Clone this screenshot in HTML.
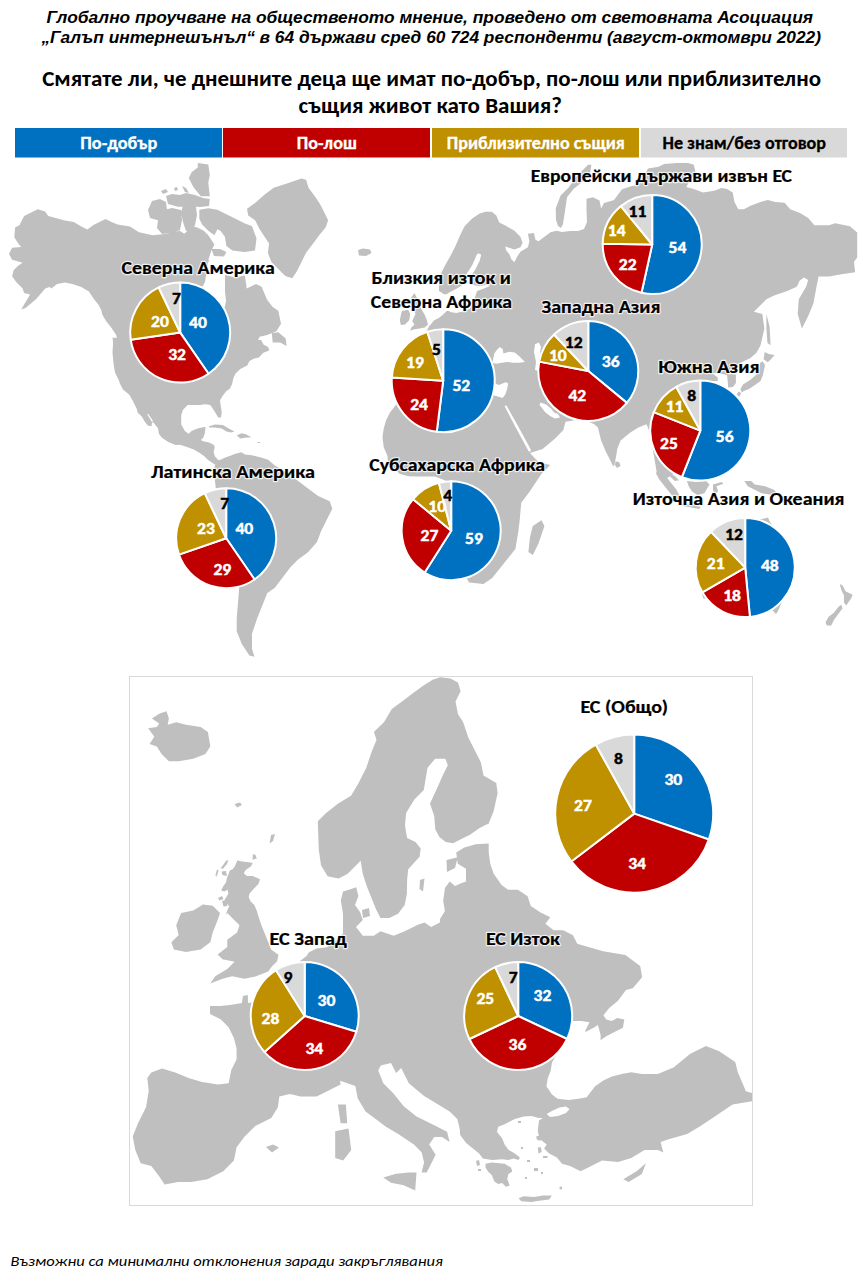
<!DOCTYPE html>
<html lang="bg"><head><meta charset="utf-8"><title>Галъп интернешънъл</title><style>
html,body{margin:0;padding:0;background:#fff;overflow:hidden;width:863px;height:1281px;}
svg{display:block;}
.tt{font-family:"Liberation Sans",Arial,sans-serif;font-weight:bold;font-style:italic;font-size:17.33px;fill:#000;}
.q{font-family:Carlito,"Liberation Sans",sans-serif;font-weight:bold;font-size:22.67px;fill:#000;}
.lg{font-family:Carlito,"Liberation Sans",sans-serif;font-weight:bold;font-size:18px;stroke-width:.3px;}
.pl{font-family:Carlito,"Liberation Sans",sans-serif;font-weight:bold;text-anchor:middle;stroke-width:.45px;}
.rh{font-family:Carlito,"Liberation Sans",sans-serif;font-weight:bold;fill:#fff;stroke:#fff;stroke-width:2.5px;stroke-linejoin:round;opacity:.75;}
.rl{font-family:Carlito,"Liberation Sans",sans-serif;font-weight:bold;fill:#000;stroke:#000;stroke-width:.2px;}
.ft{font-family:Carlito,"Liberation Sans",sans-serif;font-style:italic;font-size:14.67px;fill:#000;}
</style></head>
<body><svg width="863" height="1281" viewBox="0 0 863 1281">
<path d="M9,253.8L12.1,247.7L21.1,247L18.1,243.2L14.3,237.2L15.1,227.4L19.6,225.1L24.1,216.1L37.7,209.3L45.2,211.6L48.2,216.1L64.8,220.6L73.8,222.1L81.3,226.6L87.4,229.6L93.4,225.1L105.5,219.1L111.5,222.1L117.5,224.4L130,226.6L139,232.3L152.6,235.3L167.7,233.8L179.7,230.8L184.2,233.8L193.3,226.3L197.8,227.8L203.8,230.8L208.3,235.3L214.4,244.4L211.4,250.4L208.3,260L218,268L225,275L235.6,277.5L244.9,275.6L246.7,288.6L256,284L261.6,286.7L267.1,299.7L272.7,307.1L278.3,310.8L281,323.8L276.4,331.2L267.1,334.9L259.7,336.8L258,340L261.1,340L263.4,344.6L268.1,347L269.2,350.4L263.4,352.7L258.8,357.4L254.2,358.5L249.5,360.9L247.2,365.5L240.3,369L235.6,373.6L233.3,378.2L232.1,384L229.8,388.7L226.4,391L222.9,395.6L220,400.3L220.6,404.9L221.7,411.8L221.1,417.6L218.2,417.6L214.8,411.8L211.9,407.2L210.1,404.9L205.5,404.3L199.7,404.9L193.9,404.9L187.7,405L183,409.7L181.2,415.2L181.2,424.5L184.9,431L188.6,433.8L191.6,430.9L197.4,428.5L205.5,426.8L204.9,433.2L203.2,437.8L200.9,440.1L203.2,441.3L209,442.4L213.6,444.8L214.8,447.1L213.6,451.7L214.8,456.3L218.2,460L224,460.5L229.8,458L232,456L231,459L226,462.5L220,463.5L214.8,464.5L207.8,459.8L204.3,456.3L199.7,452.9L193.9,449.4L187,447.1L180,444.8L175.6,444.9L168.2,442.1L161.7,437.5L158.9,433.8L158,428.2L153.4,422.6L152,422.6L151.5,426.3L147.8,425.4L144.1,420.8L142.2,417.1L137.6,412.4L136.7,408.7L133,401.3L129.3,394.8L122.8,389.3L120,383.7L118.7,379.9L115,372.4L113.7,364.9L112.5,352.4L113.1,342.4L112.5,337.4L116.8,338.1L116.2,335L111.2,327.5L106.2,321.2L102.5,315L101.2,310L98.7,305L93.7,298.7L88.9,291.4L81.3,286.9L72.3,283.9L64.8,282.4L57.2,283.9L51.2,288.4L49.7,286.9L45.2,288.4L36.2,299L25.6,308L21.1,309.5L30.1,294.4L24.1,292.9L22.6,288.4L16.6,282.4L12.1,276.3L13.6,270.3L18.1,265.8L22.6,262.8L12.1,259.8ZM209,426.2L214.8,424.5L222.9,425.1L228.7,428.5L234.5,431.4L231,432.6L226.4,431.4L221.7,428.5L214.8,427.4L209,427.6ZM236.8,435.5L241.4,433.2L246,434.3L251.3,437.2L244.9,437.8L240.3,438.4ZM257.6,441.9L260,441.9L260,443L257.6,443ZM247,208.7L255.1,202.9L264.4,194.8L273.7,187.8L287.6,183.2L301.5,178.5L306.1,179.7L308.5,187.8L315.4,197.1L320,204L324.7,213.3L328.1,220.3L325.8,227.2L320,234.2L313.1,243.4L306.1,252.7L301.5,262L296.9,271.2L292.2,278.2L285.3,275.9L278.3,268.9L271.4,262L267.9,252.7L269.1,243.4L264.4,236.5L259.8,229.5L255.1,220.3L248.2,215.6ZM197.8,163L208.3,164.5L209.8,175.1L208.3,182.6L209.8,196.2L200.8,196.2L193.3,187.1L188.8,178.1L191.8,172.1L197.8,167.5ZM166,196L172,194L180,195L186,193L195,195L203,198L209.8,199L209,206L200,207L190,206L178,206.7L168,204ZM161,191L166,189L168,192L163,194ZM174,188L177,187L178,190L175,191ZM182,186L186,188L189,193L185,192ZM148,210L152,201L160,199L166,202L167,210L162,216L157,220L150,218ZM156,212L164,210L172,208L181,210L182,220L180,230L172,233L162,234L157,228L158,220ZM183,206L190,205L196,207L197,215L195,225L192,232L186,231L183,222L181,212ZM199.3,209.7L208.3,208.2L217.4,209.7L226.4,214.2L235.5,218.8L244.5,223.3L252,226.3L256.5,238.3L255,250.4L244.5,251.9L232.4,250.4L226.4,245.9L224.9,236.8L220.4,230.8L217.4,229.3L214.4,235.3L208.3,230.8L202.3,224.8L199.3,218.8ZM211.4,249L220,248.9L226.4,252L224,256.4L214,256ZM271.8,333.1L278.3,332.2L285.7,338.6L286.6,346.1L280.1,342.4L272.7,342.4ZM231,455.5L234.5,454L241.4,452.3L244.9,454.6L251.8,455.2L261.1,457.5L268.1,459.8L274.9,465.5L287.6,473.1L297.8,480.8L308,488.4L318.2,496.1L329.7,501.2L332.3,508.8L325.9,521.6L320.8,531.8L317,542L308,552.2L297.8,559.8L290.2,567.5L282.6,577.6L274.9,587.8L267.3,593L262.2,605.7L257.1,618.4L252,633.7L252,649L254.5,656.7L249.4,655.4L241.8,643.9L236.7,631.2L236.7,618.4L238,603.1L239.2,587.8L238,570L230,550L218,525L214,505L216,490L213.7,470L216,462L224,458ZM358,250L363,248.5L370,249.5L371.5,253L366,256L359,255.5ZM401.9,310.9L408.2,309.8L410.2,314L409.2,320.2L405,324.4L400.9,324.9L399.8,320.2L400.9,315ZM414.5,293L418.2,300.4L421.7,309.8L424.8,315L426.9,320.2L428,324.4L424.8,327.5L419.6,328.6L413.4,329.6L410.2,330.7L411.3,327.5L414.4,324.4L412.3,321.3L413.4,318.2L415.5,314L414.4,310.9L410.8,305L410.8,298ZM387.5,456.1L383.7,447.3L382.5,437.3L383.7,428.6L386.2,419.9L390,412.4L395,406.1L400,398L398,380L400,360L410,350L420,340L426,332L429,326.5L434.2,320.2L438.4,318.2L442.6,315L446.7,310.9L451,311L452,302L455,301.5L439,291L439,283.4L440.5,274.4L445.1,265.3L451.1,254.8L455.6,245.7L460.1,235.2L464.6,226.2L472.2,218.6L479.7,213.4L485.7,211.8L491.8,211.8L496.3,215.6L499.3,222.4L505.3,225.4L514.4,230.7L520.4,236.7L522.6,242.7L520.4,247.2L514.4,249.5L509.8,248L505.3,246.5L506,250L509.8,255L511.3,259.3L514.4,262.3L517.4,256.3L520.4,251.8L527.9,247.2L529.4,241.2L527.9,233.7L533.9,232.9L535.5,239.7L538.5,241.2L544.5,236.7L550.5,232.2L556.5,230.7L562,232L570,231L578,231L584,229L587,222L586.5,210L586.5,198.8L593,197.2L599.5,200.4L601.1,208.5L604,203L611,201L614,200L622,189.3L632,186L638.8,184.8L648,168.5L658.5,166.7L664.1,163.9L677.1,163L688.2,163L693.8,164.8L695.6,172.2L689,182L686.3,187.1L693.8,188.9L703,192.6L714.2,190.8L721.6,188L727.1,188.9L732.7,192.6L734.5,201.9L738.3,209.3L743.8,209.3L751.2,205.6L760.5,201.9L767.9,200.1L775.3,201.9L784.6,202.8L790.2,209.3L800,213L808.2,218L814.4,225.3L829,225.3L835.3,223.2L849.9,226.3L857.2,232.6L857.2,257.6L854,261.8L855.1,272.2L841.5,274.3L829,276.4L818.6,276.4L816.5,286.8L813.4,303.5L808.2,316L801.9,328.5L797.7,313.9L798.8,299.3L806.1,286.8L808.2,280L804,277.4L799.8,280.6L796.7,286.8L787.3,291L774.8,295.2L766.4,299.3L753.9,311.8L762.3,313.9L764.4,328.5L762.6,336.3L760.5,345.6L756.3,352.9L750.1,358.2L743.8,361.3L735,366L730,370L727.6,374L735.9,374.5L735.9,383L733,387L728.2,387.5L727.6,380L727,375L720,373.5L712,373L717.8,377.5L717.8,381L708,381.3L700,381.3L690,381L688,395L700,420L712,425L705,440L698,450L690,460L680,470L667,478L662.3,477.9L656.7,472.3L655,462L652,445L649.8,432L646.5,424.3L638.4,427.6L630.3,432.4L620.6,440.6L617.3,448.7L616,457L614.1,466.5L612.5,465L610.9,461.6L606,451.9L601.1,440.6L597.9,427.6L594,424L588.5,421.8L578,419.7L565.5,421.8L563.4,430.1L555.1,438.5L542.6,448.9L530,453L538.6,462.2L550.2,465.1L541.5,473.8L529.9,491.2L521.2,502.8L519.7,520.2L518.3,531.7L515.4,549.1L503.8,563.6L492.2,578.1L483.5,583.9L469,582.4L462,570L458,550L455,520L455,500L451,484L444,480L435,476.5L416,476.5L408.2,476.2L399.5,473.8L387.9,462.2ZM555.7,208.5L556,220L558,226L561,228L563,224L565.4,208.5L567,197.2L573.5,189.1L581.6,182.6L589.8,174.5L591.4,164.7L588.1,164.7L576.8,176.1L568.7,187.4L560.6,195.6ZM766.4,313.9L769.6,326.4L770.6,345.2L767.5,343.1L766.4,328.5ZM764.7,351.9L768.8,354L774.6,355L770.9,359.2L767.8,362.3L763.6,359.2ZM762.6,361.3L765,365L764,370L762.6,376L760.5,381L755,385L749,389L743.8,391L741.7,392.5L740.5,389L743,384.5L750,380L756,375L759.5,369L760,363ZM738.6,391.5L741,393L739.6,396.7L736.5,394.7ZM615.5,461.5L619,462L620.6,466L617,468.1L615,465ZM532.8,526L541.5,520.2L544.4,526L538.6,543.3L532.8,554.9L528.4,552L529.9,537.5ZM655.6,472.4L662.6,471.5L669.5,481.1L676.5,489.8L681.7,500.2L680,503.7L673,496.7L666.1,488L659.1,479.3ZM666.1,471.5L674.8,475.9L679.1,480.2L674.8,481.1L669.5,475.9ZM681.7,503.7L692.1,504.5L700.8,507.1L699.1,508.9L688.7,507.1L682,506ZM686.9,481.1L695.6,481.9L706.1,481.1L709.5,484.6L704.3,493.2L697.4,495L692.1,491.5L688.7,486.3ZM713,484.6L721.7,481.9L723.4,483.7L716.5,486.3L718.2,491.5L714.7,495L713,489.8ZM744.3,481.1L751.2,481.1L754.7,484.6L765.2,486.3L773.8,489.8L777.3,493.2L772.1,495L761.7,493.2L754.7,489.8L747.8,486.3ZM722,432L726,431L727,440L724,444L721,440ZM714,412L717,411L717,418L714,418ZM839.8,584.1L842.6,585.5L845.5,591.2L852.6,594.8L851.2,598.3L846.2,605.5L844,602.6L844,595.5L841.9,591.2L840.5,587ZM841.2,604.8L842.6,608.3L838.3,614L834.1,619.7L831.2,625.4L826.9,625.4L825.5,622.6L828.4,616.9L834.1,612.6L838.3,606.9ZM705,545L720,530L740,522L762,519L768,517.5L770,522L780,535L788,555L790,575L785,595L778,611L776,614L770,608L755,603L740,600L720,605L703,598L698,575Z" fill="#BFBFBF"/><path d="M147,414L148.5,414.2L153,421L152,422ZM208,262L215,258L224,262L225,276L225,292L226,301L225,306L215,330L200,330L195,300L205,282ZM444,296L450,292L456,289L461,286L463.1,283.4L466.2,274.4L472.2,265.3L476.7,254.8L478.2,253.3L481.2,254.8L479.7,260.8L475.2,269.8L470.7,275.9L468.5,283L470.9,284.8L479.2,285.9L487.6,284.8L490,286L484,288.5L477.1,291.1L474,300L469.8,308.8L464.6,310.9L456.3,313L450,311.9L445.9,306.7ZM436,296L447,294L451,296L454,300L452,302L446,300L438,300ZM405,392L412,388L420,385L430,383L440,378L450,372L458,372L466,378L472,382L480,380L486,378L490,380L494.3,383.2L498.9,385L505.4,382.3L508.2,383.2L507.2,388.8L505.4,394.3L502.6,398L497,396.2L493.3,395.2L488,396L480,397L470,394L460,391L450,392L440,392L430,393L420,394L410,395ZM492.4,362.8L494.3,353.5L497,349.8L499.8,347L502.6,348.9L503.5,353.5L509.1,351.7L514.7,352.6L519.3,356.3L524.9,361.9L519.3,362.8L512.8,362.8L507.2,361.9L501.7,362.8L496.1,363.7ZM535,344.3L538.8,342.4L541,347L540,352L542,358L542.5,366L540,371L535,370L536,362L534,352ZM504.5,406L506.5,405.5L518,426L531,450L530,452L528.5,451L516,428ZM540.5,402.5L546,404.5L551,408.5L554,412.5L558,414L560,417.5L555,418.5L550,416L545,412L542,408L539.5,405Z" fill="#fff"/>
<rect x="129.5" y="676.5" width="623" height="529" fill="#fff" stroke="#D9D9D9" stroke-width="1"/>
<clipPath id="eb"><rect x="130" y="677" width="622" height="528"/></clipPath><g clip-path="url(#eb)"><path d="M327.6,876.2L321,865.2L318.8,849.8L317.8,821.3L325.5,813.6L338.2,803.5L351,795.8L358.6,783.1L366.3,767.8L371.4,752.5L376.5,739.7L373.9,732.1L384.1,721.9L391.8,709.1L402,701.5L412.2,693.8L422.4,686.2L432.6,679.8L440.2,677.3L450.4,678.5L458,682.4L460.6,691.3L455.5,701.5L458,714.2L463.1,721.9L468.2,737.2L475.9,752.5L481,762.7L483.5,775.4L496.3,783.1L497.6,793.3L493.7,811.1L488.6,823.8L485.4,825L478.9,828.5L470,834.8L461.3,839L453,843.2L445.7,842.1L439.4,836.9L435.3,829.6L434.2,816.1L430,803.6L436.3,790L442.7,775.4L447.8,765.2L445.3,758.8L435.1,758.8L427.5,767.8L423.8,790L414.4,799.4L406.1,812.9L405,825.5L407.1,838L415.5,842.1L420.7,848.4L419.6,856.7L408.2,869.3L407.1,880L406.9,893.8L404.7,904.9L398.1,913.7L389.3,918.1L380.5,918.1L376,909.3L371.6,898.3L367.2,887.2L362.8,874L360.6,860.8L356.2,865.2L347.4,874L338.6,878.4ZM343,891.6L349.6,889.4L356.2,887.2L358.4,896L355,905L360,912L362.8,920L356,927L362.8,935.7L373.8,935.7L380.5,931.3L387.1,933.5L393.7,935.7L404.7,931.3L417.9,924.7L424.5,922.5L431.1,926.9L439.9,922.5L440,919L444.9,910.9L443.2,901.1L444.9,888.1L449.7,881.6L455,886L461.1,883.3L466,881.6L466,868.7L457.8,863.8L456.2,852.4L464.3,847.6L475.7,844.3L488.7,843.5L488.7,852.4L490.3,863.8L493.5,873.5L501.6,884.9L508.1,889.8L517.9,889.8L527.6,896.2L530.8,906L540.6,912.5L550.3,917.3L545.4,923.8L553.6,930.3L563.3,930.3L573,935.2L577.2,943.8L603.1,951.2L625.4,955L640.2,966.1L642.1,977.2L632.8,988.3L626,990L618,1000.7L609,1008.3L603.4,1015.3L606.2,1019.5L611.8,1020.9L617.3,1018.1L624.3,1019.5L622.9,1027.8L614.5,1032L606.2,1036.2L600.6,1040.3L600.6,1034.8L597.9,1025L593.7,1027.8L585.4,1032L585.4,1030.6L589.5,1022.2L581.2,1020.9L572.8,1020.9L567.3,1034.8L565.9,1037.5L552,1062.6L550.6,1070.9L547.8,1077.9L546.4,1086.2L552,1094.5L557.5,1098.7L568.7,1100.1L578.4,1098.7L586.7,1097.3L595.1,1086.2L603.4,1080.6L611.8,1076.5L622.9,1073.7L631.2,1072.3L641.9,1074L657.9,1074L673.9,1067.3L689.9,1054L705.9,1046L719.2,1051.3L735.2,1062L737.9,1072.6L745.9,1091.3L760,1095L760,1100L732.6,1104.6L716.6,1115.3L700.6,1125.9L687.2,1133.9L668.6,1139.3L660.6,1141.9L663.3,1152.6L658,1150L644.6,1149.9L631.3,1157.9L618,1161.9L602,1160.6L591.3,1165.9L580.6,1171.2L570,1165.9L562,1163.7L556.9,1157.4L549.2,1153.5L544.1,1148.4L546.7,1144.6L541,1140L539,1137L537.8,1130.6L539,1120.4L542.9,1118L537.8,1117.8L531.4,1115.9L523.7,1116.6L514.8,1119.1L508.4,1122.3L504,1124.5L498.2,1126.8L497,1131.9L502.1,1138.2L504.6,1144.6L508.4,1149.7L514.8,1153.5L519.9,1157.4L518.6,1159.9L513.5,1158.6L508.4,1159.9L502.1,1159.3L491.9,1159.9L482.9,1158.6L479.1,1153.5L466.4,1143.3L462.5,1138.2L460,1134.4L459.8,1129.2L457.3,1119L449.6,1111.4L436.9,1103.7L424.1,1096.1L408.8,1083.3L401.2,1068L396.1,1073.1L391,1062.9L380.8,1065.5L378.2,1070.6L383.3,1083.3L393.5,1093.5L403.7,1106.3L416.5,1116.5L431.8,1124.1L447.1,1131.8L449.6,1142L442,1136.9L434.3,1136.9L429.2,1144.5L435.6,1154.7L431.8,1162.4L426.7,1172.6L421.6,1172.6L424.1,1162.4L421.6,1152.2L413.9,1144.5L398.6,1134.3L385.9,1126.7L375.7,1119L365.5,1111.4L357.8,1098.6L355.3,1085.9L340,1080.8L340.6,1084.6L327.2,1091.3L316.6,1096.6L300.6,1096.6L289.9,1093.9L279.3,1096.6L277.9,1107.3L271.3,1117.9L255.3,1125.9L244.6,1136.6L236.6,1147.2L233.9,1160.6L223.3,1171.2L207.3,1179.2L191.3,1181.9L178,1181.9L164.6,1184.6L159.3,1176.6L151.3,1165.9L140.7,1163.2L135.3,1149.9L132.7,1136.6L138,1123.3L146,1107.3L148.7,1091.3L147.3,1078L151.3,1072.6L162,1068.6L175.3,1072.6L188.6,1078L202,1082L218,1084.6L228.6,1083.3L231.3,1070L236.6,1059.3L236.6,1048.6L233.9,1038L228.6,1027.3L220.6,1019.3L210,1014L210,1006L220.6,1006L230,1005L241.9,1003L243,996L247.8,995L248,1003L256,1002L265,995L275,988L285,975L295,965L306.5,956.1L309,952.3L316.7,948.4L326.9,947.2L336.4,940.1L343,933.5L343,913.7L340.8,900.5ZM237.3,860.5L242.2,861.4L248.7,862.2L252.7,863L251.1,866.2L245.4,870.3L243.8,873.5L247,876L252.7,876L260,879.2L258.4,884.1L253.5,888.9L249.5,893.8L248.7,897L250.3,901.1L254.3,905.1L256.8,910.8L258,915L261.4,925.2L266.3,937.3L271.1,949.5L278.4,954.8L277.2,961.2L272.1,966.3L268.2,971.4L255.5,976.5L244.4,978.7L232.2,976.3L222.5,978.7L210.3,983.6L215.2,976.3L227.3,969L234.6,961.7L222.5,959.2L217.6,954.4L227.3,947.1L227.3,939.8L237.1,932.5L239.5,925.2L232.2,917.9L227.3,913L226,914.9L226.8,911.6L229.2,906L226.8,903.5L224.3,900.3L227,896L228.4,893.8L227.6,889.7L224.3,891.4L221.1,890.6L223.5,885.7L226,882.4L226.8,878.4L228.4,874.3L230,870.3L232.4,869.5L234.9,866.2ZM222,866.5L226,861L228.4,859.7L227,864L223,868.7L220.5,868ZM217,869.5L218.7,870.5L216.5,876.8L215.4,875.5ZM221.5,871.5L226,871L227,876L222.5,875ZM218,898L222,896L223.5,899L219.5,900.5ZM222,901L226,900L227.5,906L223.5,906.5ZM253,854L255.5,855L256.8,858.5L252.5,859.7ZM181.1,913L193.3,910.6L203,904.5L212.7,905.7L220,913L217.6,920.3L212.7,932.5L210.3,942.2L200.6,949.5L186,951.9L173.8,949.5L171.4,942.2L178.7,934.9L176.2,925.2ZM151.9,718.6L159.2,713.7L166.5,711.3L168.9,718.6L167.7,724.7L176.2,722.2L186,724.7L200.6,727.1L207.9,732L210.3,746.6L205.4,753.9L193.3,758.7L178.7,761.2L168.9,761.2L161.6,753.9L156.8,746.6L149.5,744.1L154.3,736.8L148.2,728.3L156.8,727.1L159.2,723.4ZM234.6,804L240,802.5L241.9,805L237,807.4ZM271,835L275,834L273,841L269.5,843.5ZM337.9,1104.6L345.9,1104.6L347.2,1123.3L340.6,1123.3ZM335.2,1131.3L348.5,1128.6L351.2,1149.9L343.2,1160.6L335.2,1157.9ZM383.3,1177.6L396.1,1173.8L408.8,1172.6L416.5,1172.6L415.2,1190.4L403.7,1185.3L391,1182.7ZM518.6,1198.2L523.7,1196.2L533.9,1196.9L542.9,1195.6L551.8,1195.6L549.2,1199.4L539,1200.7L531.4,1202L521.2,1201.3ZM485.5,1163.7L491.9,1162.5L504.6,1163.7L511,1167.6L512.3,1171.4L508.4,1173.9L507.2,1179L509.7,1185.4L505.9,1186.7L502.1,1182.9L498.2,1184.1L494.4,1181.6L491.9,1175.2L488,1171.4L485.5,1167.6ZM503,1150L508,1151.5L514,1154L518,1157L516,1158L510,1155.5L504,1152.5ZM536.5,1136L542,1135.7L544,1139L539,1140.8L536.5,1139ZM537.8,1147.5L541,1147.2L541.6,1152L538.5,1153.5ZM543,1156L548,1156L547,1158L543,1158ZM559.4,1186.7L562,1186.5L562,1189.2L559.8,1189.5ZM521,1147L523,1147L523,1149L521,1149ZM527,1160L530,1160L530,1162L527,1162ZM534,1168L538,1168L538,1171L534,1171ZM541,1172L543,1172L543,1174L541,1174ZM525,1177L527,1177L527,1179L525,1179ZM518,1121L521,1121L521,1123L518,1123ZM476,1161L479,1160L480,1165L477,1166ZM478,1169L481,1169L481,1171L478,1171ZM623.3,1179.2L636.6,1171.2L645.9,1163.2L641.9,1173.9L628.6,1181.9ZM266,1147L273,1144.6L279,1147.5L272,1152.6ZM420,880L424.5,878.4L423,891.6L419.5,889ZM362,910L369,908L370,916L363,918ZM446.5,860L457.8,857.3L455,868L447,871.9Z" fill="#BFBFBF"/><path d="M546.7,1114L551.8,1111L559.4,1107.6L565.8,1106.4L569.6,1108.9L566,1113L558,1116L550,1117Z" fill="#fff"/></g>
<text x="46.6" y="22.7" class="tt" textLength="766.4" lengthAdjust="spacingAndGlyphs">Глобално проучване на общественото мнение, проведено от световната Асоциация</text>
<text x="41.4" y="43" class="tt" textLength="779.6" lengthAdjust="spacingAndGlyphs">„Галъп интернешънъл“ в 64 държави сред 60 724 респонденти (август-октомври 2022)</text>
<text x="42.2" y="86.4" class="q" textLength="778.8" lengthAdjust="spacingAndGlyphs">Смятате ли, че днешните деца ще имат по-добър, по-лош или приблизително</text>
<text x="298.6" y="112.5" class="q" textLength="263.4" lengthAdjust="spacingAndGlyphs">същия живот като Вашия?</text>
<rect x="15" y="128" width="207" height="29.5" fill="#0070C0"/>
<text x="118.8" y="148.9" class="lg" fill="#fff" stroke="#fff" text-anchor="middle" textLength="77" lengthAdjust="spacingAndGlyphs">По-добър</text>
<rect x="223" y="128" width="207" height="29.5" fill="#C00000"/>
<text x="326.8" y="148.9" class="lg" fill="#fff" stroke="#fff" text-anchor="middle" textLength="60" lengthAdjust="spacingAndGlyphs">По-лош</text>
<rect x="432" y="128" width="207" height="29.5" fill="#BF9000"/>
<text x="535.8" y="148.9" class="lg" fill="#fff" stroke="#fff" text-anchor="middle" textLength="178" lengthAdjust="spacingAndGlyphs">Приблизително същия</text>
<rect x="641" y="128" width="206" height="29.5" fill="#D9D9D9"/>
<text x="744.3" y="148.9" class="lg" fill="#000" stroke="#000" text-anchor="middle" textLength="163.5" lengthAdjust="spacingAndGlyphs">Не знам/без отговор</text>
<path d="M180.20,332.60L180.20,282.60A50,50 0 0 1 208.55,373.78Z" fill="#0070C0" stroke="#fff" stroke-width="2" stroke-linejoin="round"/>
<path d="M180.20,332.60L208.55,373.78A50,50 0 0 1 130.71,339.72Z" fill="#C00000" stroke="#fff" stroke-width="2" stroke-linejoin="round"/>
<path d="M180.20,332.60L130.71,339.72A50,50 0 0 1 158.71,287.45Z" fill="#BF9000" stroke="#fff" stroke-width="2" stroke-linejoin="round"/>
<path d="M180.20,332.60L158.71,287.45A50,50 0 0 1 180.20,282.60Z" fill="#D9D9D9" stroke="#fff" stroke-width="2" stroke-linejoin="round"/>
<text x="197.9" y="327.8" class="pl" fill="#fff" stroke="#fff" font-size="16" textLength="17.8" lengthAdjust="spacingAndGlyphs">40</text>
<text x="177.1" y="360.2" class="pl" fill="#fff" stroke="#fff" font-size="16" textLength="17.8" lengthAdjust="spacingAndGlyphs">32</text>
<text x="159.9" y="327.4" class="pl" fill="#fff" stroke="#fff" font-size="16" textLength="17.8" lengthAdjust="spacingAndGlyphs">20</text>
<text x="176.5" y="304.1" class="pl" fill="#000" stroke="#000" font-size="16" textLength="8.9" lengthAdjust="spacingAndGlyphs">7</text>
<path d="M226.20,538.30L226.20,488.30A50,50 0 0 1 254.55,579.48Z" fill="#0070C0" stroke="#fff" stroke-width="2" stroke-linejoin="round"/>
<path d="M226.20,538.30L254.55,579.48A50,50 0 0 1 178.95,554.65Z" fill="#C00000" stroke="#fff" stroke-width="2" stroke-linejoin="round"/>
<path d="M226.20,538.30L178.95,554.65A50,50 0 0 1 204.71,493.15Z" fill="#BF9000" stroke="#fff" stroke-width="2" stroke-linejoin="round"/>
<path d="M226.20,538.30L204.71,493.15A50,50 0 0 1 226.20,488.30Z" fill="#D9D9D9" stroke="#fff" stroke-width="2" stroke-linejoin="round"/>
<text x="244.3" y="533.8" class="pl" fill="#fff" stroke="#fff" font-size="16" textLength="17.8" lengthAdjust="spacingAndGlyphs">40</text>
<text x="222.3" y="574.9" class="pl" fill="#fff" stroke="#fff" font-size="16" textLength="17.8" lengthAdjust="spacingAndGlyphs">29</text>
<text x="206.0" y="533.8" class="pl" fill="#fff" stroke="#fff" font-size="16" textLength="17.8" lengthAdjust="spacingAndGlyphs">23</text>
<text x="224.6" y="509.3" class="pl" fill="#000" stroke="#000" font-size="16" textLength="8.9" lengthAdjust="spacingAndGlyphs">7</text>
<path d="M443.20,380.70L443.20,329.20A51.5,51.5 0 1 1 436.75,431.79Z" fill="#0070C0" stroke="#fff" stroke-width="2" stroke-linejoin="round"/>
<path d="M443.20,380.70L436.75,431.79A51.5,51.5 0 0 1 391.80,377.47Z" fill="#C00000" stroke="#fff" stroke-width="2" stroke-linejoin="round"/>
<path d="M443.20,380.70L391.80,377.47A51.5,51.5 0 0 1 427.29,331.72Z" fill="#BF9000" stroke="#fff" stroke-width="2" stroke-linejoin="round"/>
<path d="M443.20,380.70L427.29,331.72A51.5,51.5 0 0 1 443.20,329.20Z" fill="#D9D9D9" stroke="#fff" stroke-width="2" stroke-linejoin="round"/>
<text x="461.3" y="390.6" class="pl" fill="#fff" stroke="#fff" font-size="16" textLength="17.8" lengthAdjust="spacingAndGlyphs">52</text>
<text x="419.1" y="410.3" class="pl" fill="#fff" stroke="#fff" font-size="16" textLength="17.8" lengthAdjust="spacingAndGlyphs">24</text>
<text x="414.9" y="367.5" class="pl" fill="#fff" stroke="#fff" font-size="16" textLength="17.8" lengthAdjust="spacingAndGlyphs">19</text>
<text x="436.5" y="354.7" class="pl" fill="#000" stroke="#000" font-size="16" textLength="8.9" lengthAdjust="spacingAndGlyphs">5</text>
<path d="M451.20,530.70L451.20,481.20A49.5,49.5 0 1 1 424.68,572.49Z" fill="#0070C0" stroke="#fff" stroke-width="2" stroke-linejoin="round"/>
<path d="M451.20,530.70L424.68,572.49A49.5,49.5 0 0 1 413.06,499.15Z" fill="#C00000" stroke="#fff" stroke-width="2" stroke-linejoin="round"/>
<path d="M451.20,530.70L413.06,499.15A49.5,49.5 0 0 1 438.89,482.76Z" fill="#BF9000" stroke="#fff" stroke-width="2" stroke-linejoin="round"/>
<path d="M451.20,530.70L438.89,482.76A49.5,49.5 0 0 1 451.20,481.20Z" fill="#D9D9D9" stroke="#fff" stroke-width="2" stroke-linejoin="round"/>
<text x="474.0" y="544.0" class="pl" fill="#fff" stroke="#fff" font-size="16" textLength="17.8" lengthAdjust="spacingAndGlyphs">59</text>
<text x="429.5" y="540.5" class="pl" fill="#fff" stroke="#fff" font-size="16" textLength="17.8" lengthAdjust="spacingAndGlyphs">27</text>
<text x="437.2" y="511.5" class="pl" fill="#fff" stroke="#fff" font-size="16" textLength="17.8" lengthAdjust="spacingAndGlyphs">10</text>
<text x="447.6" y="501.1" class="pl" fill="#000" stroke="#000" font-size="16" textLength="8.9" lengthAdjust="spacingAndGlyphs">4</text>
<path d="M652.20,244.50L652.20,195.00A49.5,49.5 0 1 1 641.51,292.83Z" fill="#0070C0" stroke="#fff" stroke-width="2" stroke-linejoin="round"/>
<path d="M652.20,244.50L641.51,292.83A49.5,49.5 0 0 1 602.71,243.73Z" fill="#C00000" stroke="#fff" stroke-width="2" stroke-linejoin="round"/>
<path d="M652.20,244.50L602.71,243.73A49.5,49.5 0 0 1 620.91,206.14Z" fill="#BF9000" stroke="#fff" stroke-width="2" stroke-linejoin="round"/>
<path d="M652.20,244.50L620.91,206.14A49.5,49.5 0 0 1 652.20,195.00Z" fill="#D9D9D9" stroke="#fff" stroke-width="2" stroke-linejoin="round"/>
<text x="677.4" y="253.1" class="pl" fill="#fff" stroke="#fff" font-size="16" textLength="17.8" lengthAdjust="spacingAndGlyphs">54</text>
<text x="627.7" y="270.0" class="pl" fill="#fff" stroke="#fff" font-size="16" textLength="17.8" lengthAdjust="spacingAndGlyphs">22</text>
<text x="616.7" y="236.2" class="pl" fill="#fff" stroke="#fff" font-size="16" textLength="17.8" lengthAdjust="spacingAndGlyphs">14</text>
<text x="637.5" y="217.4" class="pl" fill="#000" stroke="#000" font-size="16" textLength="17.8" lengthAdjust="spacingAndGlyphs">11</text>
<path d="M588.30,371.00L588.30,321.00A50,50 0 0 1 626.83,402.87Z" fill="#0070C0" stroke="#fff" stroke-width="2" stroke-linejoin="round"/>
<path d="M588.30,371.00L626.83,402.87A50,50 0 0 1 539.19,361.63Z" fill="#C00000" stroke="#fff" stroke-width="2" stroke-linejoin="round"/>
<path d="M588.30,371.00L539.19,361.63A50,50 0 0 1 554.07,334.55Z" fill="#BF9000" stroke="#fff" stroke-width="2" stroke-linejoin="round"/>
<path d="M588.30,371.00L554.07,334.55A50,50 0 0 1 588.30,321.00Z" fill="#D9D9D9" stroke="#fff" stroke-width="2" stroke-linejoin="round"/>
<text x="610.7" y="366.5" class="pl" fill="#fff" stroke="#fff" font-size="16" textLength="17.8" lengthAdjust="spacingAndGlyphs">36</text>
<text x="577.3" y="400.6" class="pl" fill="#fff" stroke="#fff" font-size="16" textLength="17.8" lengthAdjust="spacingAndGlyphs">42</text>
<text x="557.8" y="360.9" class="pl" fill="#fff" stroke="#fff" font-size="16" textLength="17.8" lengthAdjust="spacingAndGlyphs">10</text>
<text x="573.7" y="347.8" class="pl" fill="#000" stroke="#000" font-size="16" textLength="17.8" lengthAdjust="spacingAndGlyphs">12</text>
<path d="M700.30,430.60L700.30,380.60A50,50 0 1 1 681.89,477.09Z" fill="#0070C0" stroke="#fff" stroke-width="2" stroke-linejoin="round"/>
<path d="M700.30,430.60L681.89,477.09A50,50 0 0 1 653.81,412.19Z" fill="#C00000" stroke="#fff" stroke-width="2" stroke-linejoin="round"/>
<path d="M700.30,430.60L653.81,412.19A50,50 0 0 1 676.21,386.78Z" fill="#BF9000" stroke="#fff" stroke-width="2" stroke-linejoin="round"/>
<path d="M700.30,430.60L676.21,386.78A50,50 0 0 1 700.30,380.60Z" fill="#D9D9D9" stroke="#fff" stroke-width="2" stroke-linejoin="round"/>
<text x="724.7" y="441.5" class="pl" fill="#fff" stroke="#fff" font-size="16" textLength="17.8" lengthAdjust="spacingAndGlyphs">56</text>
<text x="669.0" y="448.5" class="pl" fill="#fff" stroke="#fff" font-size="16" textLength="17.8" lengthAdjust="spacingAndGlyphs">25</text>
<text x="674.6" y="412.3" class="pl" fill="#fff" stroke="#fff" font-size="16" textLength="17.8" lengthAdjust="spacingAndGlyphs">11</text>
<text x="691.8" y="400.6" class="pl" fill="#000" stroke="#000" font-size="16" textLength="8.9" lengthAdjust="spacingAndGlyphs">8</text>
<path d="M745.20,567.60L745.20,518.10A49.5,49.5 0 0 1 749.91,616.88Z" fill="#0070C0" stroke="#fff" stroke-width="2" stroke-linejoin="round"/>
<path d="M745.20,567.60L749.91,616.88A49.5,49.5 0 0 1 702.33,592.35Z" fill="#C00000" stroke="#fff" stroke-width="2" stroke-linejoin="round"/>
<path d="M745.20,567.60L702.33,592.35A49.5,49.5 0 0 1 711.04,531.78Z" fill="#BF9000" stroke="#fff" stroke-width="2" stroke-linejoin="round"/>
<path d="M745.20,567.60L711.04,531.78A49.5,49.5 0 0 1 745.20,518.10Z" fill="#D9D9D9" stroke="#fff" stroke-width="2" stroke-linejoin="round"/>
<text x="769.8" y="571.4" class="pl" fill="#fff" stroke="#fff" font-size="16" textLength="17.8" lengthAdjust="spacingAndGlyphs">48</text>
<text x="732.1" y="601.0" class="pl" fill="#fff" stroke="#fff" font-size="16" textLength="17.8" lengthAdjust="spacingAndGlyphs">18</text>
<text x="715.7" y="569.1" class="pl" fill="#fff" stroke="#fff" font-size="16" textLength="17.8" lengthAdjust="spacingAndGlyphs">21</text>
<text x="734.0" y="540.4" class="pl" fill="#000" stroke="#000" font-size="16" textLength="17.8" lengthAdjust="spacingAndGlyphs">12</text>
<path d="M634.20,813.60L634.20,734.60A79,79 0 0 1 708.86,839.44Z" fill="#0070C0" stroke="#fff" stroke-width="2" stroke-linejoin="round"/>
<path d="M634.20,813.60L708.86,839.44A79,79 0 0 1 571.33,861.44Z" fill="#C00000" stroke="#fff" stroke-width="2" stroke-linejoin="round"/>
<path d="M634.20,813.60L571.33,861.44A79,79 0 0 1 595.79,744.57Z" fill="#BF9000" stroke="#fff" stroke-width="2" stroke-linejoin="round"/>
<path d="M634.20,813.60L595.79,744.57A79,79 0 0 1 634.20,734.60Z" fill="#D9D9D9" stroke="#fff" stroke-width="2" stroke-linejoin="round"/>
<text x="673.3" y="785.2" class="pl" fill="#fff" stroke="#fff" font-size="16" textLength="17.8" lengthAdjust="spacingAndGlyphs">30</text>
<text x="637.1" y="869.3" class="pl" fill="#fff" stroke="#fff" font-size="16" textLength="17.8" lengthAdjust="spacingAndGlyphs">34</text>
<text x="582.9" y="811.4" class="pl" fill="#fff" stroke="#fff" font-size="16" textLength="17.8" lengthAdjust="spacingAndGlyphs">27</text>
<text x="618.4" y="764.4" class="pl" fill="#000" stroke="#000" font-size="16" textLength="8.9" lengthAdjust="spacingAndGlyphs">8</text>
<path d="M304.70,1016.00L304.70,962.00A54,54 0 0 1 356.36,1031.73Z" fill="#0070C0" stroke="#fff" stroke-width="2" stroke-linejoin="round"/>
<path d="M304.70,1016.00L356.36,1031.73A54,54 0 0 1 264.50,1052.05Z" fill="#C00000" stroke="#fff" stroke-width="2" stroke-linejoin="round"/>
<path d="M304.70,1016.00L264.50,1052.05A54,54 0 0 1 276.02,970.25Z" fill="#BF9000" stroke="#fff" stroke-width="2" stroke-linejoin="round"/>
<path d="M304.70,1016.00L276.02,970.25A54,54 0 0 1 304.70,962.00Z" fill="#D9D9D9" stroke="#fff" stroke-width="2" stroke-linejoin="round"/>
<text x="326.4" y="1005.6" class="pl" fill="#fff" stroke="#fff" font-size="16" textLength="17.8" lengthAdjust="spacingAndGlyphs">30</text>
<text x="314.3" y="1054.0" class="pl" fill="#fff" stroke="#fff" font-size="16" textLength="17.8" lengthAdjust="spacingAndGlyphs">34</text>
<text x="270.5" y="1024.4" class="pl" fill="#fff" stroke="#fff" font-size="16" textLength="17.8" lengthAdjust="spacingAndGlyphs">28</text>
<text x="288.0" y="983.1" class="pl" fill="#000" stroke="#000" font-size="16" textLength="8.9" lengthAdjust="spacingAndGlyphs">9</text>
<path d="M518.20,1016.00L518.20,962.00A54,54 0 0 1 567.06,1038.99Z" fill="#0070C0" stroke="#fff" stroke-width="2" stroke-linejoin="round"/>
<path d="M518.20,1016.00L567.06,1038.99A54,54 0 0 1 469.34,1038.99Z" fill="#C00000" stroke="#fff" stroke-width="2" stroke-linejoin="round"/>
<path d="M518.20,1016.00L469.34,1038.99A54,54 0 0 1 495.21,967.14Z" fill="#BF9000" stroke="#fff" stroke-width="2" stroke-linejoin="round"/>
<path d="M518.20,1016.00L495.21,967.14A54,54 0 0 1 518.20,962.00Z" fill="#D9D9D9" stroke="#fff" stroke-width="2" stroke-linejoin="round"/>
<text x="542.5" y="1001.4" class="pl" fill="#fff" stroke="#fff" font-size="16" textLength="17.8" lengthAdjust="spacingAndGlyphs">32</text>
<text x="517.4" y="1049.8" class="pl" fill="#fff" stroke="#fff" font-size="16" textLength="17.8" lengthAdjust="spacingAndGlyphs">36</text>
<text x="485.3" y="1003.5" class="pl" fill="#fff" stroke="#fff" font-size="16" textLength="17.8" lengthAdjust="spacingAndGlyphs">25</text>
<text x="513.3" y="983.1" class="pl" fill="#000" stroke="#000" font-size="16" textLength="8.9" lengthAdjust="spacingAndGlyphs">7</text>
<text x="121.5" y="274.0" font-size="19" textLength="153.2" lengthAdjust="spacingAndGlyphs" class="rh">Северна Америка</text><text x="121.5" y="274.0" font-size="19" textLength="153.2" lengthAdjust="spacingAndGlyphs" class="rl">Северна Америка</text>
<text x="150.9" y="477.7" font-size="19" textLength="164.0" lengthAdjust="spacingAndGlyphs" class="rh">Латинска Америка</text><text x="150.9" y="477.7" font-size="19" textLength="164.0" lengthAdjust="spacingAndGlyphs" class="rl">Латинска Америка</text>
<text x="371.4" y="283.8" font-size="19" textLength="139.5" lengthAdjust="spacingAndGlyphs" class="rh">Близкия изток и</text><text x="371.4" y="283.8" font-size="19" textLength="139.5" lengthAdjust="spacingAndGlyphs" class="rl">Близкия изток и</text>
<text x="370.8" y="307.6" font-size="19" textLength="141.3" lengthAdjust="spacingAndGlyphs" class="rh">Северна Африка</text><text x="370.8" y="307.6" font-size="19" textLength="141.3" lengthAdjust="spacingAndGlyphs" class="rl">Северна Африка</text>
<text x="369.2" y="471.3" font-size="19" textLength="175.8" lengthAdjust="spacingAndGlyphs" class="rh">Субсахарска Африка</text><text x="369.2" y="471.3" font-size="19" textLength="175.8" lengthAdjust="spacingAndGlyphs" class="rl">Субсахарска Африка</text>
<text x="530.7" y="182.3" font-size="19" textLength="261.3" lengthAdjust="spacingAndGlyphs" class="rh">Европейски държави извън ЕС</text><text x="530.7" y="182.3" font-size="19" textLength="261.3" lengthAdjust="spacingAndGlyphs" class="rl">Европейски държави извън ЕС</text>
<text x="541.5" y="312.8" font-size="19" textLength="119.0" lengthAdjust="spacingAndGlyphs" class="rh">Западна Азия</text><text x="541.5" y="312.8" font-size="19" textLength="119.0" lengthAdjust="spacingAndGlyphs" class="rl">Западна Азия</text>
<text x="658.3" y="372.6" font-size="19" textLength="101.2" lengthAdjust="spacingAndGlyphs" class="rh">Южна Азия</text><text x="658.3" y="372.6" font-size="19" textLength="101.2" lengthAdjust="spacingAndGlyphs" class="rl">Южна Азия</text>
<text x="632.8" y="505.3" font-size="19" textLength="211.7" lengthAdjust="spacingAndGlyphs" class="rh">Източна Азия и Океания</text><text x="632.8" y="505.3" font-size="19" textLength="211.7" lengthAdjust="spacingAndGlyphs" class="rl">Източна Азия и Океания</text>
<text x="580.5" y="712.7" font-size="18.5" textLength="87.5" lengthAdjust="spacingAndGlyphs" class="rh">ЕС (Общо)</text><text x="580.5" y="712.7" font-size="18.5" textLength="87.5" lengthAdjust="spacingAndGlyphs" class="rl">ЕС (Общо)</text>
<text x="269.6" y="944.7" font-size="18.5" textLength="77.1" lengthAdjust="spacingAndGlyphs" class="rh">ЕС Запад</text><text x="269.6" y="944.7" font-size="18.5" textLength="77.1" lengthAdjust="spacingAndGlyphs" class="rl">ЕС Запад</text>
<text x="485.9" y="944.9" font-size="18.5" textLength="74.0" lengthAdjust="spacingAndGlyphs" class="rh">ЕС Изток</text><text x="485.9" y="944.9" font-size="18.5" textLength="74.0" lengthAdjust="spacingAndGlyphs" class="rl">ЕС Изток</text>
<text x="10.4" y="1266.4" class="ft" textLength="432.4" lengthAdjust="spacingAndGlyphs">Възможни са минимални отклонения заради закръглявания</text>
</svg></body></html>
